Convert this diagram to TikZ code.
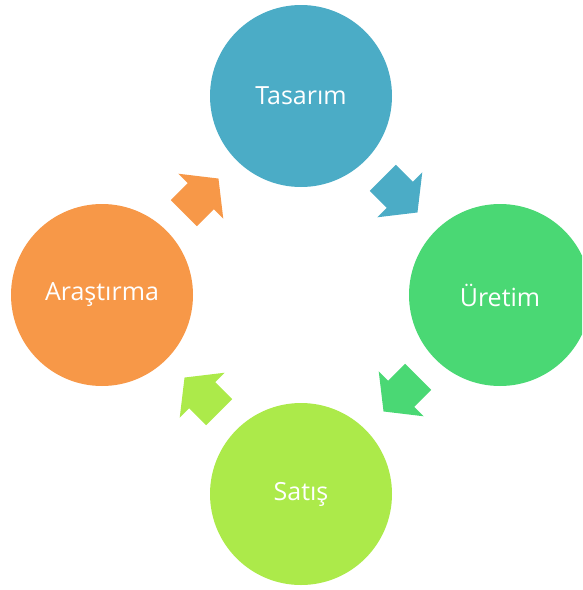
\documentclass[tikz,border=0pt]{standalone}
\usepackage{fontspec}
\setmainfont{Open Sans}
\usetikzlibrary{calc}
\definecolor{cTasarim}{RGB}{75,172,198}
\definecolor{cUretim}{RGB}{74,216,116}
\definecolor{cSatis}{RGB}{172,234,74}
\definecolor{cArastirma}{RGB}{247,152,72}
\tikzset{
  stage/.style={circle, minimum size=182pt, inner sep=0pt, text=white,
    font=\fontsize{25}{30}\selectfont},
  cyclearrow/.pic={
    \fill[pic actions] (-25,-18.4) -- (-1,-18.4) -- (-1,-31.8) -- (24,0)
      -- (-1,31.8) -- (-1,18.4) -- (-25,18.4) -- cycle;
  }
}
\begin{document}
\begin{tikzpicture}[x=1pt,y=1pt]
  \useasboundingbox (0,0) rectangle (582,-590);
  \clip (0,0) rectangle (582,-590);
  % the four stages of the cycle
  \node[stage, fill=cTasarim]   (tasarim)   at (301,-96)  {Tasarım};
  \node[stage, fill=cUretim]    (uretim)    at (500,-295) {Üretim};
  \node[stage, fill=cSatis]     (satis)     at (301,-494) {Satış};
  \node[stage, fill=cArastirma] (arastirma) at (102,-295) {Araştırma};
  % block arrows between neighbouring stages
  \coordinate (m1) at ($(tasarim)!0.5!(uretim)$);
  \coordinate (m2) at ($(uretim)!0.5!(satis)$);
  \coordinate (m3) at ($(satis)!0.5!(arastirma)$);
  \coordinate (m4) at ($(arastirma)!0.5!(tasarim)$);
  \pic[fill=cTasarim,   rotate=-45]  at (m1) {cyclearrow};
  \pic[fill=cUretim,    rotate=-135] at (m2) {cyclearrow};
  \pic[fill=cSatis,     rotate=135]  at (m3) {cyclearrow};
  \pic[fill=cArastirma, rotate=45]   at (m4) {cyclearrow};
\end{tikzpicture}
\end{document}
